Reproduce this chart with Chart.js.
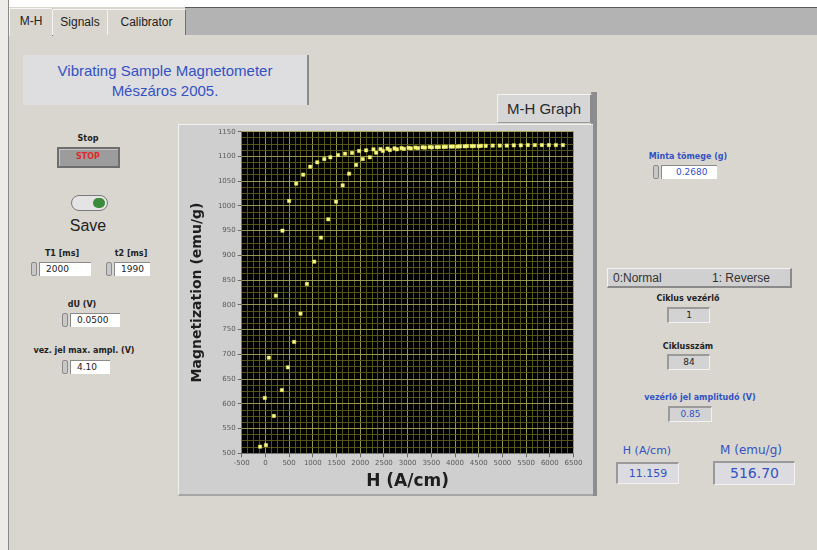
<!DOCTYPE html>
<html>
<head>
<meta charset="utf-8">
<title>Vibrating Sample Magnetometer</title>
<script src="https://cdn.jsdelivr.net/npm/chart.js@4.4.1/dist/chart.umd.min.js"></script>
<style>
  html, body { margin: 0; padding: 0; }
  body { width: 817px; height: 550px; overflow: hidden; background: #d9d6cf; position: relative;
         font-family: "DejaVu Sans", "Liberation Sans", sans-serif; }
  .abs { position: absolute; }
  .topwhite { left: 0; top: 0; width: 817px; height: 7px; background: #ffffff; }
  .leftwhite { left: 0; top: 0; width: 8px; height: 550px; background: #eeece8; border-right: 1px solid #8a8a8a; }
  .tabstrip { left: 185px; top: 7px; width: 632px; height: 27px; background: #b3b3b3; border-top: 1px solid #5a5a5a; }
  .tab { top: 9px; height: 25px; background: #d9d6cf; border-left: 1px solid #f4f4f4; border-right: 1px solid #707070;
         border-top: 1px solid #f4f4f4; font: 12px "Liberation Sans Narrow", "Liberation Sans", sans-serif; color: #222; line-height: 24px; text-align: center; }
  .titlebox { left: 23px; top: 55px; width: 286px; height: 50px; background: #dedde0; border-right: 2px solid #8c8c8c;
              color: #3452c4; font: 15px "Liberation Sans", sans-serif; text-align: center; line-height: 20px; padding-top: 6px; box-sizing: border-box; }
  .btn { left: 497px; top: 94px; width: 92px; height: 27px; background: #d6d6d6; border-top: 1px solid #f2f2f2; border-left: 1px solid #f2f2f2;
         border-right: 3px solid #8a8a8a; border-bottom: 1px solid #9a9a9a; font: 15px "Liberation Sans", sans-serif; color: #2a2a2a;
         text-align: center; line-height: 27px; }
  .frame { left: 178px; top: 124px; width: 414px; height: 369px; background: #cfcfcf; border-top: 1px solid #f0f0f0; border-left: 1px solid #f0f0f0;
           border-bottom: 2px solid #a6a6a6; }
  .shadebar { left: 591px; top: 92px; width: 6px; height: 404px; background: #8d8d8d; }
  .lbl { font: bold 8px "DejaVu Sans", sans-serif; color: #222; text-align: center; white-space: nowrap; transform: translateX(-50%); }
  .blue { color: #3452c4; }
  .field { background: #ffffff; border-top: 1px solid #8a8a8a; border-left: 1px solid #8a8a8a; font: 9px "DejaVu Sans", sans-serif;
           color: #222; line-height: 13px; padding-left: 6px; box-sizing: border-box; }
  .spin { width: 6px; height: 14px; background: #c8c8c8; border: 1px solid #8a8a8a; border-radius: 2px; box-sizing: border-box; }
  .ind { background: #d3d3d3; border-top: 2px solid #9a9a9a; border-left: 2px solid #9a9a9a; border-right: 1px solid #f2f2f2;
         border-bottom: 1px solid #f2f2f2; font: 9px "DejaVu Sans", sans-serif; color: #222; text-align: center; box-sizing: border-box; }
</style>
</head>
<body>
<div class="abs topwhite"></div>
<div class="abs leftwhite"></div>
<div class="abs tabstrip"></div>
<div class="abs tab" style="left:9px;width:42px;top:8px;height:27px;">M-H</div>
<div class="abs tab" style="left:52px;width:54px;">Signals</div>
<div class="abs tab" style="left:107px;width:77px;">Calibrator</div>

<div class="abs titlebox">Vibrating Sample Magnetometer<br>Mészáros 2005.</div>

<div class="abs shadebar"></div>
<div class="abs btn">M-H Graph</div>
<div class="abs frame"></div>

<!-- left controls -->
<div class="abs lbl" style="left:88px;top:134px;">Stop</div>
<div class="abs" style="left:57px;top:147px;width:63px;height:21px;background:#9c9c9c;border:2px solid #6e6e6e;box-sizing:border-box;box-shadow:inset 1px 1px 0 #c4c4c4;"></div>
<div class="abs" style="left:88px;top:152px;transform:translateX(-50%);font:bold 8px 'DejaVu Sans';color:#e02828;">STOP</div>
<div class="abs" style="left:71px;top:195px;width:37px;height:16px;border-radius:9px;background:#e4e4e4;border:1px solid #7a7a7a;box-sizing:border-box;"></div>
<div class="abs" style="left:93px;top:198px;width:12px;height:10px;border-radius:5px;background:#3c8a3c;"></div>
<div class="abs" style="left:88px;top:217px;transform:translateX(-50%);font:16px 'Liberation Sans';color:#222;">Save</div>

<div class="abs lbl" style="left:62px;top:249px;">T1 [ms]</div>
<div class="abs spin" style="left:31px;top:262px;"></div>
<div class="abs field" style="left:39px;top:262px;width:52px;height:14px;">2000</div>
<div class="abs lbl" style="left:131px;top:249px;">t2 [ms]</div>
<div class="abs spin" style="left:106px;top:262px;"></div>
<div class="abs field" style="left:114px;top:262px;width:36px;height:14px;">1990</div>

<div class="abs lbl" style="left:82px;top:300px;">dU (V)</div>
<div class="abs spin" style="left:62px;top:313px;"></div>
<div class="abs field" style="left:70px;top:313px;width:50px;height:14px;">0.0500</div>

<div class="abs lbl" style="left:84px;top:346px;">vez. jel max. ampl. (V)</div>
<div class="abs spin" style="left:62px;top:360px;"></div>
<div class="abs field" style="left:70px;top:360px;width:40px;height:14px;">4.10</div>

<!-- right controls -->
<div class="abs lbl blue" style="left:688px;top:152px;">Minta tömege (g)</div>
<div class="abs spin" style="left:653px;top:165px;"></div>
<div class="abs field blue" style="left:661px;top:165px;width:56px;height:14px;color:#3452c4;padding-left:14px;">0.2680</div>

<div class="abs" style="left:607px;top:268px;width:185px;height:20px;background:#d0d0d0;border-top:1px solid #f2f2f2;border-left:1px solid #f2f2f2;border-right:2px solid #8a8a8a;border-bottom:2px solid #8a8a8a;box-sizing:border-box;font:12px 'Liberation Sans';color:#333;line-height:18px;">
  <span style="position:absolute;left:5px;">0:Normal</span><span style="position:absolute;left:104px;">1: Reverse</span>
</div>

<div class="abs lbl" style="left:688px;top:294px;">Ciklus vezérlő</div>
<div class="abs ind" style="left:667px;top:307px;width:43px;height:16px;line-height:13px;">1</div>
<div class="abs lbl" style="left:688px;top:342px;">Ciklusszám</div>
<div class="abs ind" style="left:667px;top:354px;width:43px;height:16px;line-height:13px;">84</div>
<div class="abs lbl blue" style="left:700px;top:393px;">vezérlő jel amplitudó (V)</div>
<div class="abs ind blue" style="left:668px;top:406px;width:44px;height:16px;line-height:13px;color:#3452c4;">0.85</div>

<div class="abs" style="left:647px;top:444px;transform:translateX(-50%);font:11px 'DejaVu Sans';color:#3452c4;white-space:nowrap;">H (A/cm)</div>
<div class="abs ind" style="left:616px;top:462px;width:63px;height:22px;line-height:19px;color:#3452c4;font-size:11px;background:#dcdce0;">11.159</div>
<div class="abs" style="left:751px;top:443px;transform:translateX(-50%);font:12px 'DejaVu Sans';color:#3452c4;white-space:nowrap;">M (emu/g)</div>
<div class="abs ind" style="left:713px;top:461px;width:82px;height:24px;line-height:21px;color:#3452c4;font-size:14px;background:#dcdce0;">516.70</div>

<div class="abs" style="left:178px;top:124px;width:420px;height:370px;">
  <canvas id="mh" width="420" height="370"></canvas>
</div>

<script>
// Ascending-field branch of the M-H loop
const hUp = [-112, -13, 72, 220, 360, 501, 650, 798, 946, 1094, 1243, 1370, 1533, 1681, 1829, 1977, 2125, 2280,
  2428, 2576, 2724, 2872, 3020, 3168, 3316, 3464, 3612, 3760, 3908, 4056, 4204, 4352, 4500, 4648, 4796, 4944,
  5092, 5240, 5388, 5536, 5684, 5832, 5980, 6128, 6276];
const mUp = [513.4, 611.8, 693.2, 818.5, 949.9, 1010.0, 1044.9, 1063.1, 1079.3, 1088.2, 1094.8, 1098.3, 1102.9, 1105.5, 1107.0, 1111.0, 1112.4, 1114.4,
  1115.0, 1116.0, 1116.5, 1117.0, 1117.5, 1118.0, 1118.5, 1119.0, 1119.0, 1119.5, 1120.0, 1120.0, 1120.5, 1121.0, 1121.0, 1121.5, 1122.0, 1122.0,
  1122.0, 1122.5, 1122.5, 1123.0, 1123.0, 1123.0, 1123.0, 1123.0, 1123.0];

// Second branch, ending at the current reading (H = 11.159 A/cm, M = 516.70 emu/g)
const hDown = [11.159, 178, 347, 474, 607, 741, 876, 1031, 1173, 1327, 1490, 1630, 1766, 1914, 2054, 2202, 2337, 2477,
  2625, 2773, 2921, 3069, 3217, 3365, 3513, 3661, 3809, 3957, 4105, 4253, 4401, 4549];
const mDown = [516.70, 575.4, 627.9, 673.8, 725.0, 782.2, 842.2, 887.3, 935.8, 973.0, 1008.5, 1041.7, 1065.1, 1082.7, 1094.8, 1098.3, 1107.6, 1111.0,
  1113.0, 1114.5, 1115.5, 1116.5, 1117.0, 1118.0, 1118.5, 1119.0, 1119.5, 1120.0, 1120.5, 1121.0, 1121.0, 1121.5];

// Axis ranges and label spacing
const hRange = [-500, 6500];
const mRange = [500, 1150];
const hMajor = 500, hMinor = 125;
const mMajor = 50, mMinor = 12.5;

const toPoints = (xs, ys) => xs.map((x, i) => ({ x: x, y: ys[i] }));

const MAJOR_GRID = 'rgba(165,165,85,0.9)';
const MINOR_GRID = 'rgba(92,92,28,0.9)';
const isMajor = (v, step) => Math.abs(v / step - Math.round(v / step)) < 1e-6;

const plotBackground = {
  id: 'plotBackground',
  beforeDraw(chart) {
    const { ctx, chartArea: a } = chart;
    ctx.save();
    ctx.fillStyle = '#000000';
    ctx.fillRect(a.left, a.top, a.right - a.left, a.bottom - a.top);
    ctx.restore();
  }
};

const pointStyle = {
  showLine: false,
  pointStyle: 'rect',
  pointRadius: 2.3,
  pointBackgroundColor: '#f7f79a',
  pointBorderColor: '#e6e64a',
  pointBorderWidth: 0.6
};

new Chart(document.getElementById('mh'), {
  type: 'scatter',
  data: {
    datasets: [
      Object.assign({ label: 'up', data: toPoints(hUp, mUp) }, pointStyle),
      Object.assign({ label: 'down', data: toPoints(hDown, mDown) }, pointStyle)
    ]
  },
  options: {
    responsive: false,
    animation: false,
    events: [],
    layout: { padding: { left: 0, right: 24.5, top: 7.7, bottom: 0 } },
    plugins: { legend: { display: false }, tooltip: { enabled: false } },
    scales: {
      x: {
        type: 'linear',
        min: hRange[0], max: hRange[1],
        afterFit(s) { s.height = 40.7; },
        border: { color: '#777777' },
        grid: {
          color: c => isMajor(c.tick.value, hMajor) ? MAJOR_GRID : MINOR_GRID,
          tickColor: c => isMajor(c.tick.value, hMajor) ? '#6a6a6a' : 'rgba(0,0,0,0)',
          tickLength: 4,
          lineWidth: 1
        },
        ticks: {
          stepSize: hMinor,
          autoSkip: false,
          maxRotation: 0,
          padding: 2,
          color: '#5a5a5a',
          font: { family: 'DejaVu Sans', size: 7 },
          callback: v => isMajor(v, hMajor) ? String(v) : ''
        },
        title: {
          display: true,
          text: 'H (A/cm)',
          color: '#1e1e1e',
          font: { family: 'DejaVu Sans', size: 17, weight: 'bold' },
          padding: { top: 0, bottom: 2 }
        }
      },
      y: {
        type: 'linear',
        min: mRange[0], max: mRange[1],
        afterFit(s) { s.width = 63.7; },
        border: { color: '#777777' },
        grid: {
          color: c => isMajor(c.tick.value, mMajor) ? MAJOR_GRID : MINOR_GRID,
          tickColor: c => isMajor(c.tick.value, mMajor) ? '#6a6a6a' : 'rgba(0,0,0,0)',
          tickLength: 4,
          lineWidth: 1
        },
        ticks: {
          stepSize: mMinor,
          autoSkip: false,
          padding: 2,
          color: '#5a5a5a',
          font: { family: 'DejaVu Sans', size: 7 },
          callback: v => isMajor(v, mMajor) ? String(v) : ''
        },
        title: {
          display: true,
          text: 'Magnetization (emu/g)',
          color: '#1e1e1e',
          font: { family: 'DejaVu Sans', size: 14, weight: 'bold' },
          padding: { top: 10.6, bottom: 0 }
        }
      }
    }
  },
  plugins: [plotBackground]
});
</script>
</body>
</html>
